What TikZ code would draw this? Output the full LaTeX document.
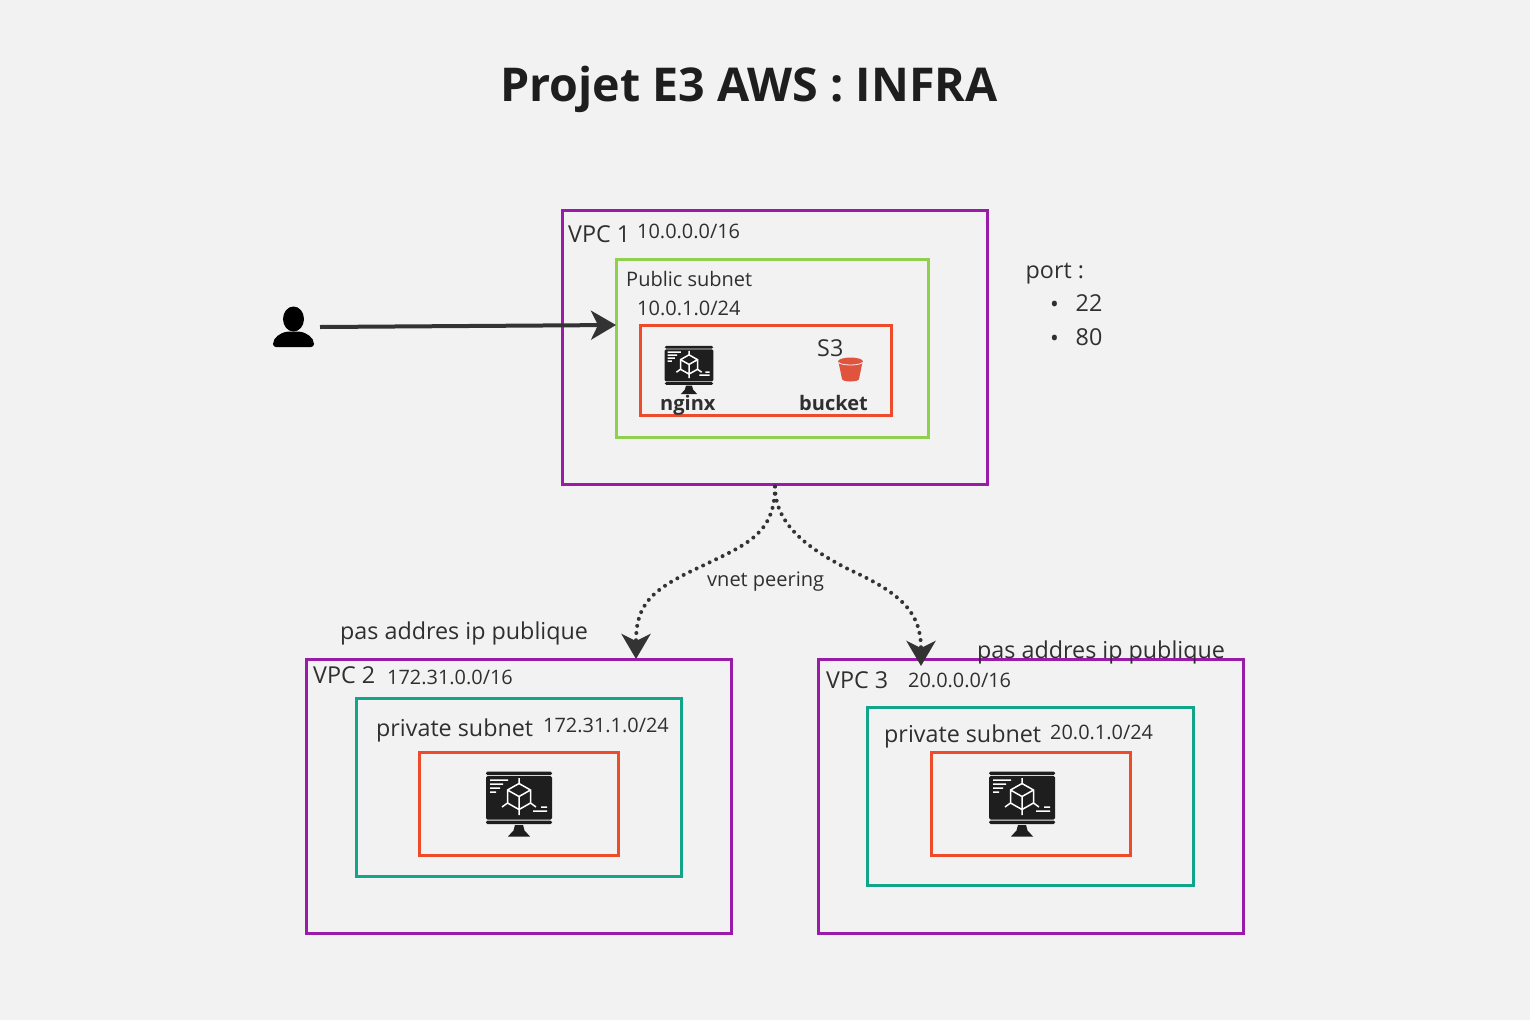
\documentclass[tikz,border=0pt]{standalone}
\usepackage{fontspec}
\setmainfont{Open Sans}
\usetikzlibrary{arrows.meta}
\definecolor{bgcol}{HTML}{F2F2F2}
\definecolor{vpccol}{HTML}{9A1BAA}
\definecolor{pubcol}{HTML}{8FD14F}
\definecolor{privcol}{HTML}{12A58A}
\definecolor{instcol}{HTML}{EE4B2B}
\definecolor{bucketcol}{HTML}{E0533D}
\definecolor{textcol}{HTML}{2F2F2F}
\definecolor{linecol}{HTML}{333333}
\definecolor{iconcol}{HTML}{1E1E1E}
\tikzset{
	monitor/.pic={
		\fill[iconcol,rounded corners=1.5] (-33,-32.5) rectangle (33,-29);
		\fill[iconcol,rounded corners=1.5] (-33,-28) rectangle (33,15.5);
		\fill[iconcol,rounded corners=1.5] (-33,16.5) rectangle (33,20);
		\fill[iconcol] (-4,21) -- (4,21) -- (6,28) -- (-6,28) -- cycle;
		\fill[iconcol] (-11,32.5) -- (-6,27) -- (6,27) -- (11,32.5) -- cycle;
		\draw[white,line width=1.5]
		(0,-20.5) -- (11.5,-14) -- (11.5,-1) -- (0,5.5) -- (-11.5,-1) -- (-11.5,-14) -- cycle
		(-11.5,-14) -- (0,-7.5) -- (11.5,-14) (0,-7.5) -- (0,5.5)
		(0,-26) -- (0,-20.5) (0,5.5) -- (0,11)
		(-11.5,-1) -- (-17,3) (11.5,-1) -- (17,3)
		(-29,-24) -- (-11,-24) (-29,-20) -- (-16,-20) (-29,-16) -- (-19,-16) (-29,-12) -- (-23,-12)
		(14,7) -- (28,7) (22,3) -- (28,3);
	},
	usericon/.pic={
		\fill[black] (0,-7) ellipse (10.5 and 12.5);
		\fill[black,rounded corners=3] (-20.5,21) .. controls (-20.5,11) and (-12,7) .. (-6,5.5) -- (6,5.5) .. controls (12,7) and (20.5,11) .. (20.5,21) -- cycle;
	},
	bucketicon/.pic={
		\fill[bucketcol] (-12,-7) -- (12,-7) -- (8.5,10) arc (0:180:8.5 and 2.5) -- cycle;
		\fill[bucketcol] (0,-7.5) ellipse (12.5 and 4);
		\draw[bgcol,line width=0.8] (-12,-7) arc (180:0:12 and 3);
	}
}
\begin{document}
\begin{tikzpicture}[x=1pt,y=-1pt]
	\tikzstyle{box}=[draw,inner sep=0pt,line width=3.9pt]
	\tikzstyle{vpc}=[box,draw=vpccol,minimum width=425pt,minimum height=274pt]
	\tikzstyle{txt}=[anchor=west,inner sep=0pt,text=textcol,font=\fontsize{20}{24}\selectfont]
	\tikzstyle{cidr}=[txt,font=\fontsize{19.9}{24}\selectfont]
	\tikzstyle{big}=[txt,font=\fontsize{23.3}{28}\selectfont]
	\tikzstyle{conn}=[line width=4pt,draw=linecol,-{Stealth[length=25pt,width=29pt,inset=7pt,fill=linecol]}]
	\tikzstyle{peer}=[conn,line cap=round,dash pattern=on 0pt off 7.2pt]
	\useasboundingbox[fill=bgcol] (0,0) rectangle (1530,1020);

	\node[anchor=center,inner sep=0pt,text=iconcol,font=\fontsize{46.6}{54}\selectfont\bfseries] (title) at (749,89) {Projet E3 AWS : INFRA};

	% vpc 1
	\node[vpc] (vpc1) at (775,347.5) {};
	\node[box,draw=pubcol,minimum width=312pt,minimum height=178pt] (public) at (772.5,348.5) {};
	\node[box,draw=instcol,minimum width=251pt,minimum height=90pt] (inst1) at (766,370.5) {};
	\node[big] (vpc1lbl) at (568,234) {VPC 1};
	\node[cidr] (vpc1cidr) at (637,231) {10.0.0.0/16};
	\node[txt] (publbl) at (626,279) {Public subnet};
	\node[txt] (pubcidr) at (637,308) {10.0.1.0/24};
	\pic[scale=0.74] at (689,370) {monitor};
	\pic at (850.5,369) {bucketicon};
	\node[big] (s3lbl) at (817,348) {S3};
	\node[txt,font=\fontsize{20}{24}\selectfont\bfseries] (nginxlbl) at (660,405) {nginx};
	\node[txt,font=\fontsize{20}{24}\selectfont\bfseries] (bucketlbl) at (799,403) {bucket};

	% vpc 2
	\node[vpc] (vpc2) at (519,796.5) {};
	\node[box,draw=privcol,minimum width=325pt,minimum height=178pt] (priv2) at (519,787.5) {};
	\node[box,draw=instcol,minimum width=199pt,minimum height=103pt] (inst2) at (519,804) {};
	\node[big] (vpc2lbl) at (313,675) {VPC 2};
	\node[cidr] (vpc2cidr) at (387,677) {172.31.0.0/16};
	\node[big] (priv2lbl) at (376,730) {private subnet};
	\node[cidr] (priv2cidr) at (543,725) {172.31.1.0/24};
	\pic at (519,804) {monitor};
	\node[big] (noip2) at (340,633) {pas addres ip publique};

	% vpc 3
	\node[vpc] (vpc3) at (1031,796.5) {};
	\node[box,draw=privcol,minimum width=326pt,minimum height=178pt] (priv3) at (1030.5,796.5) {};
	\node[box,draw=instcol,minimum width=199pt,minimum height=103pt] (inst3) at (1031,804) {};
	\node[big] (vpc3lbl) at (826,680) {VPC 3};
	\node[cidr] (vpc3cidr) at (908,680) {20.0.0.0/16};
	\node[big] (priv3lbl) at (884,736) {private subnet};
	\node[cidr] (priv3cidr) at (1050,732) {20.0.1.0/24};
	\pic at (1022,804) {monitor};
	\node[big] (noip3) at (977,652) {pas addres ip publique};

	% port list
	\node[big] (portlbl) at (1025.5,274) {port :};
	\node[big] (bullet1) at (1050,307) {•};
	\node[big] (port22) at (1075.5,303) {22};
	\node[big] (bullet2) at (1050,341) {•};
	\node[big] (port80) at (1075.5,337) {80};

	% user
	\pic at (293.5,326) {usericon};
	\coordinate (userout) at (320,327);
	\coordinate (subnetin) at (616,325);
	\draw[conn] (userout) -- (subnetin);

	% peering
	\coordinate (peer2) at (636,659);
	\coordinate (peer3) at (921,666);
	\draw[peer] (vpc1.south) .. controls (775,535) and (745,545) .. (700,567) .. controls (650,590) and (636,605) .. (peer2);
	\draw[peer] (vpc1.south) .. controls (775,520) and (800,545) .. (850,570) .. controls (905,595) and (921,615) .. (peer3);
	\node[txt] (peerlbl) at (707,582) {vnet peering};
\end{tikzpicture}
\end{document}
